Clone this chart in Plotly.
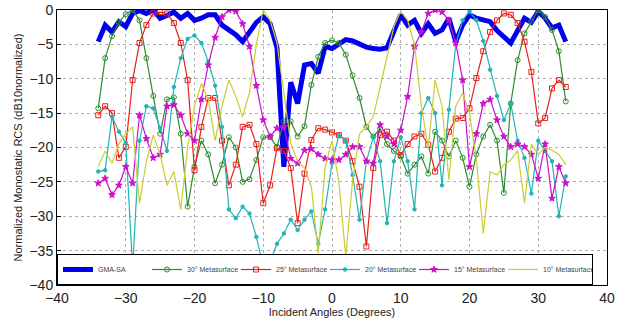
import plotly.graph_objects as go

angles = list(range(-34, 35))

gma_sa = [-4.6, -2.2, -3.2, -1.7, -2.4, -0.5, -0.1, -0.5, 0.0, -1.2, -0.8, -0.3, -1.2, -0.5,
          -1.5, -1.2, -0.7, -0.7, -2.2, -2.8, -3.6, -4.6, -3.2, -1.8, -1.0, -2.0, -5.5, -22.8,
          -10.5, -13.6, -8.0, -7.8, -9.2, -5.3, -5.6, -4.9, -4.3, -4.5, -4.9, -5.4, -5.6, -5.7,
          -5.5, -3.0, -0.7, -2.2, -1.5, -3.4, -2.0, -3.4, -2.9, -1.2, -4.6, -2.2, -0.7, -1.2,
          -1.5, -1.7, -3.0, -4.0, -4.8, -3.0, -1.2, -1.8, -0.2, -1.2, -2.6, -2.2, -4.6]

meta30 = [-14.3, -7.0, -3.8, -1.8, -0.6, 0.0, -1.5, -7.0, -12.5, -18.0, -13.0, -12.7, -18.0,
          -28.6, -22.8, -19.0, -21.0, -25.2, -22.5, -18.5, -20.0, -25.0, -24.6, -21.8, -18.5,
          -18.5, -19.9, -16.2, -16.2, -18.4, -16.9, -10.9, -6.8, -4.8, -4.4, -4.8, -6.5, -9.5,
          -12.8, -17.0, -18.4, -17.3, -19.5, -20.5, -21.3, -23.8, -22.5, -21.3, -23.8, -17.7,
          -19.0, -21.3, -19.0, -21.5, -25.7, -21.0, -18.4, -16.7, -19.0, -26.6, -13.6, -7.3,
          -3.4, -1.7, 0.0, -1.0, -2.9, -6.0, -13.3]

meta25 = [-15.3, -14.0, -15.0, -21.5, -19.9, -10.2, -4.8, -2.2, -0.5, -0.3, -0.5, -1.9, -4.8,
          -10.2, -23.3, -17.0, -12.8, -12.8, -19.0, -25.5, -22.5, -17.0, -16.7, -19.5, -28.1,
          -25.5, -20.1, -20.5, -23.0, -31.0, -23.8, -18.9, -17.2, -17.4, -17.8, -18.2, -19.0,
          -22.0, -25.7, -34.4, -23.0, -18.2, -17.7, -19.0, -21.1, -19.5, -18.4, -18.0, -19.6,
          -23.5, -21.5, -17.7, -15.8, -15.7, -14.3, -9.9, -6.0, -3.2, -1.5, -0.5, -0.7, -1.9,
          -4.6, -9.0, -16.5, -15.7, -11.4, -10.2, -11.2]

meta20 = [-23.5, -23.3, -15.5, -17.7, -19.3, -37.5, -19.0, -14.0, -14.3, -17.2, -20.5, -11.2,
          -7.0, -4.2, -3.7, -4.8, -7.5, -11.0, -17.0, -29.0, -30.3, -28.6, -29.6, -33.0, -37.3,
          -36.6, -34.0, -32.5, -30.5, -32.0, -30.5, -29.3, -34.0, -29.0, -22.3, -18.2, -19.0,
          -24.0, -30.5, -22.0, -18.5, -22.0, -31.0, -22.0, -18.5, -22.0, -29.0, -15.0, -12.8,
          -15.0, -25.5, -14.5, -5.0, -1.5, -0.2, -1.5, -4.5, -8.7, -12.5, -16.0, -13.6, -19.0,
          -21.5, -26.7, -19.0, -20.5, -22.0, -30.0, -24.2]

meta15 = [-25.2, -24.5, -26.9, -25.5, -22.8, -25.2, -15.3, -18.7, -21.5, -21.0, -14.0, -13.8,
          -15.3, -18.0, -19.0, -13.0, -8.0, -4.0, -1.0, 0.0, -0.2, -2.0, -5.3, -11.0, -16.0,
          -18.4, -17.2, -17.0, -21.6, -22.3, -20.4, -20.2, -21.0, -21.6, -21.8, -21.8, -21.0,
          -19.9, -19.9, -22.0, -22.3, -16.7, -18.4, -19.5, -17.5, -12.6, -5.3, -3.2, -0.5, 0.0,
          -0.3, -1.5, -4.8, -10.2, -22.8, -18.0, -13.6, -13.0, -16.0, -18.4, -19.9, -19.5,
          -19.9, -21.0, -24.5, -19.5, -27.4, -22.8, -25.2]

meta10 = [-22.8, -20.5, -22.3, -19.5, -18.0, -17.0, -28.1, -22.0, -18.2, -21.0, -25.5, -23.5,
          -29.0, -20.0, -14.0, -10.7, -13.0, -19.0, -14.0, -10.2, -12.5, -15.5, -12.0, -5.0,
          0.0, -1.5, -4.8, -12.0, -19.4, -22.0, -23.0, -25.7, -35.4, -22.8, -19.0, -25.0, -35.9,
          -24.7, -18.0, -17.0, -15.5, -11.2, -6.8, -2.4, -0.2, -1.5, -5.0, -14.0, -20.0, -10.2,
          -14.0, -24.7, -14.0, -12.1, -15.0, -21.8, -32.5, -23.5, -24.0, -22.5, -21.8, -20.5,
          -28.1, -19.5, -21.0, -20.0, -20.4, -21.0, -22.5]

series = [
    ("GMA-SA", gma_sa, "#0000ee", 5, None),
    ("30° Metasurface", meta30, "#2e8b2e", 1.2, "circle-open"),
    ("25° Metasurface", meta25, "#e8201a", 1.2, "square-open"),
    ("20° Metasurface", meta20, "#20b5b5", 1.2, "circle"),
    ("15° Metasurface", meta15, "#cc10cc", 1.2, "star"),
    ("10° Metasurface", meta10, "#cccc30", 1.2, None),
]

fig = go.Figure()
for name, vals, color, width, sym in series:
    if sym:
        fig.add_trace(go.Scatter(
            x=angles, y=vals, name=name, mode="lines+markers",
            line=dict(color=color, width=width),
            marker=dict(symbol=sym, size=5 if sym != "circle" else 3.5, color=color,
                        line=dict(color=color, width=1))))
    else:
        fig.add_trace(go.Scatter(
            x=angles, y=vals, name=name, mode="lines",
            line=dict(color=color, width=width)))

axis_common = dict(
    showline=True, linecolor="black", linewidth=1, mirror=True,
    ticks="inside", ticklen=4, tickcolor="black",
    showgrid=True, gridcolor="#b0b0b0", griddash="dot", gridwidth=1,
    zeroline=False, automargin=False,
    tickfont=dict(family="Liberation Sans, Arial", size=14, color="#222222"),
)

fig.update_layout(
    width=628, height=323,
    margin=dict(l=57, r=21, t=10, b=38, autoexpand=False),
    paper_bgcolor="white", plot_bgcolor="white",
    font=dict(family="Liberation Sans, Arial", color="#222222"),
    showlegend=True,
    legend=dict(orientation="h", x=0.0, y=0.0, xanchor="left", yanchor="bottom",
                bgcolor="white", bordercolor="black", borderwidth=1,
                font=dict(size=7, color="#444444"), itemwidth=30,
                entrywidth=44, entrywidthmode="pixels",
                tracegroupgap=0),
    xaxis=dict(range=[-40, 40], dtick=10, tick0=-40,
               title=dict(text="Incident Angles (Degrees)", font=dict(size=11), standoff=2),
               **axis_common),
    yaxis=dict(range=[-40, 0], dtick=5, tick0=0,
               title=dict(text="Normalized Monostatic RCS (dB10normalized)", font=dict(size=11), standoff=4),
               **axis_common),
)

fig.write_html("out.html", config={"displayModeBar": False},
               post_script="document.body.style.margin='0';document.body.style.overflow='hidden';")
